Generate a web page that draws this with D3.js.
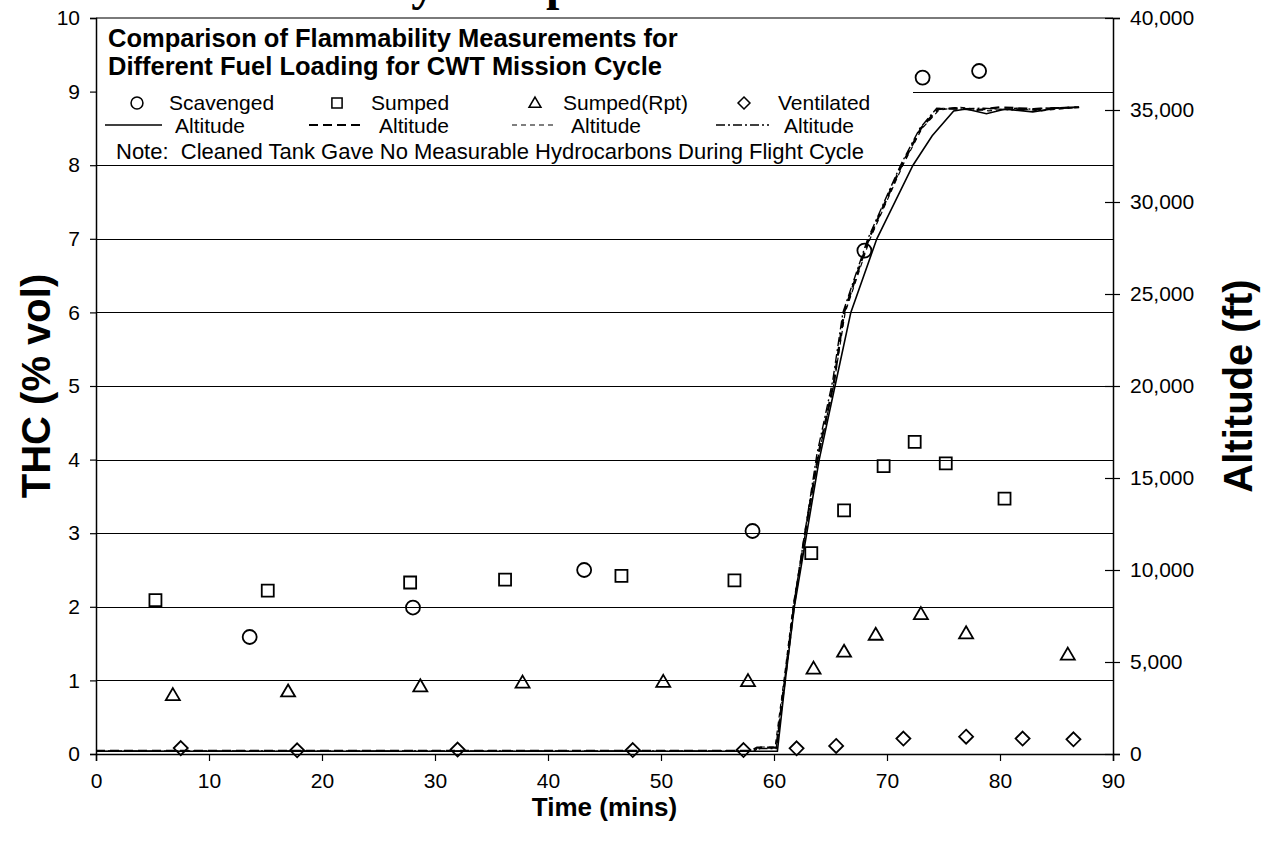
<!DOCTYPE html>
<html>
<head>
<meta charset="utf-8">
<script src="https://cdn.jsdelivr.net/npm/d3@7"></script>
<style>
  body { margin: 0; background: #fff; }
  svg { display: block; font-family: Arial, "Liberation Sans", sans-serif; }
</style>
</head>
<body>
<div id="chart"></div>
<script>
// THC readings (% vol) against time (mins)
const scavenged = [
  { t: 13.6, v: 1.59 }, { t: 28.05, v: 1.99 }, { t: 43.2, v: 2.50 }, { t: 58.1, v: 3.03 },
  { t: 68.0, v: 6.84 }, { t: 73.15, v: 9.19 }, { t: 78.15, v: 9.28 }
];
const sumped = [
  { t: 5.26, v: 2.09 }, { t: 15.2, v: 2.22 }, { t: 27.8, v: 2.33 }, { t: 36.2, v: 2.37 },
  { t: 46.5, v: 2.42 }, { t: 56.5, v: 2.36 }, { t: 63.3, v: 2.73 }, { t: 66.2, v: 3.31 },
  { t: 69.7, v: 3.91 }, { t: 72.45, v: 4.24 }, { t: 75.2, v: 3.95 }, { t: 80.4, v: 3.47 }
];
const sumpedRpt = [
  { t: 6.8, v: 0.80 }, { t: 17.0, v: 0.85 }, { t: 28.7, v: 0.92 }, { t: 37.75, v: 0.97 },
  { t: 50.2, v: 0.98 }, { t: 57.7, v: 0.99 }, { t: 63.5, v: 1.16 }, { t: 66.2, v: 1.39 },
  { t: 69.0, v: 1.62 }, { t: 73.0, v: 1.90 }, { t: 77.0, v: 1.64 }, { t: 86.0, v: 1.35 }
];
const ventilated = [
  { t: 7.5, v: 0.08 }, { t: 17.8, v: 0.05 }, { t: 32.0, v: 0.06 }, { t: 47.5, v: 0.054 },
  { t: 57.3, v: 0.054 }, { t: 62.0, v: 0.077 }, { t: 65.5, v: 0.11 }, { t: 71.45, v: 0.21 },
  { t: 77.0, v: 0.235 }, { t: 82.0, v: 0.21 }, { t: 86.5, v: 0.20 }
];

// altitude traces (ft) for each run, [time, altitude]
const altScavenged = [
  [0, 150], [60.3, 150], [61.0, 4000], [61.8, 8000], [62.9, 12000], [64.0, 16000], [65.4, 20000],
  [66.8, 24000], [69.1, 28000], [72.3, 32000], [74.0, 33600], [75.9, 34950], [77.0, 35050],
  [78.8, 34800], [80.5, 35050], [82.9, 34900], [85.0, 35100], [87.0, 35150]
];
const altSumped = [
  [0, 170], [58.0, 170], [58.5, 350], [60.2, 350], [61.0, 4200], [61.8, 8200], [62.8, 12200],
  [63.9, 16200], [65.3, 20200], [66.2, 24000], [68.4, 28000], [71.3, 32000], [73.0, 34000],
  [74.5, 35050], [76.0, 35100], [78.0, 35000], [80.0, 35150], [83.0, 35050], [87.0, 35150]
];
const altSumpedRpt = [
  [0, 140], [58.3, 140], [58.6, 380], [60.1, 380], [60.9, 4100], [61.7, 8100], [62.8, 12100],
  [63.9, 16100], [65.3, 20100], [66.3, 24000], [68.5, 28000], [71.4, 32000], [73.1, 34000],
  [74.6, 35000], [76.5, 35150], [79.0, 34950], [81.5, 35100], [83.5, 34950], [87.0, 35150]
];
const altVentilated = [
  [0, 160], [58.2, 160], [58.8, 300], [60.2, 300], [61.0, 4300], [61.8, 8300], [62.8, 12300],
  [63.8, 16300], [65.2, 20300], [66.1, 24000], [68.3, 28000], [71.2, 32000], [72.9, 34000],
  [74.4, 35100], [76.0, 35050], [78.5, 35100], [81.0, 35000], [84.0, 35100], [87.0, 35150]
];

const timeTicks = [0, 10, 20, 30, 40, 50, 60, 70, 80, 90];
const thcTicks = [0, 1, 2, 3, 4, 5, 6, 7, 8, 9, 10];
const altTicks = [0, 5000, 10000, 15000, 20000, 25000, 30000, 35000, 40000];

const W = 1265, H = 841;
const M = { top: 18, right: 152, bottom: 87, left: 96 };
const iW = W - M.left - M.right;
const iH = H - M.top - M.bottom;

const svg = d3.select("#chart").append("svg").attr("width", W).attr("height", H);

// page heading, mostly cut off above the chart
svg.append("text").attr("x", 158).attr("y", 0)
  .attr("font-family", "'Liberation Serif', 'Times New Roman', serif")
  .attr("font-weight", "bold").attr("font-size", "48px")
  .text("Flammability Comparison");

const g = svg.append("g").attr("transform", `translate(${M.left},${M.top})`);

const x = d3.scaleLinear().domain([0, 90]).range([0, iW]);
const y = d3.scaleLinear().domain([0, 10]).range([iH, 0]);
const yAlt = d3.scaleLinear().domain([0, 40000]).range([iH, 0]);

// grid
g.append("g").selectAll("line").data(thcTicks.filter(d => d > 0 && d < 10)).join("line")
  .attr("x1", 0).attr("x2", iW)
  .attr("y1", d => Math.round(y(d)) + 0.5).attr("y2", d => Math.round(y(d)) + 0.5)
  .attr("stroke", "#000").attr("stroke-width", 1);

// plot frame top
g.append("line").attr("x1", 0).attr("x2", iW).attr("y1", 0).attr("y2", 0)
  .attr("stroke", "#7a7a7a").attr("stroke-width", 2);

// legend box (white, covers grid)
g.append("rect").attr("x", 1).attr("y", 1).attr("width", 816).attr("height", 143)
  .attr("fill", "#fff");

// altitude traces
const altLine = d3.line().x(d => x(d[0])).y(d => yAlt(d[1]));
const traces = [
  { data: altScavenged, dash: null, w: 1.6 },
  { data: altSumped, dash: "9,5", w: 2.2 },
  { data: altSumpedRpt, dash: "5,4", w: 1.2 },
  { data: altVentilated, dash: "9,3,2,3", w: 1.4 }
];
traces.forEach(s => {
  g.append("path").datum(s.data).attr("d", altLine)
    .attr("fill", "none").attr("stroke", "#000")
    .attr("stroke-width", s.w).attr("stroke-dasharray", s.dash);
});

// marker shapes
const shape = {
  circle: "M7,0A7,7 0 1,1 -7,0A7,7 0 1,1 7,0Z",
  square: "M-6,-6H6V6H-6Z",
  triangle: "M0,-7L7,5H-7Z",
  diamond: "M0,-7L7,0L0,7L-7,0Z"
};
const series = [
  { data: scavenged, shape: "circle" },
  { data: sumped, shape: "square" },
  { data: sumpedRpt, shape: "triangle" },
  { data: ventilated, shape: "diamond" }
];
series.forEach(s => {
  g.append("g").selectAll("path").data(s.data).join("path")
    .attr("transform", d => `translate(${x(d.t)},${y(d.v)})`)
    .attr("d", shape[s.shape])
    .attr("fill", "none").attr("stroke", "#000").attr("stroke-width", 1.8);
});

// axes
const FS = "21px";
const ax = g.append("g").attr("transform", `translate(0,${iH})`)
  .call(d3.axisBottom(x).tickValues(timeTicks).tickSizeOuter(0).tickSize(7).tickPadding(12));
const ay = g.append("g")
  .call(d3.axisLeft(y).tickValues(thcTicks).tickSizeOuter(0).tickSize(6).tickPadding(10));
const ar = g.append("g").attr("transform", `translate(${iW},0)`)
  .call(d3.axisRight(yAlt).tickValues(altTicks).tickFormat(d3.format(",")).tickSizeOuter(0).tickSize(7).tickPadding(10));
ar.selectAll(".tick line").attr("x1", -8);
[ax, ay, ar].forEach(a => {
  a.select(".domain").attr("stroke", "#000").attr("stroke-width", 1.5);
  a.selectAll(".tick line").attr("stroke", "#000").attr("stroke-width", 1.2);
  a.selectAll("text").attr("font-size", FS).attr("font-family", "Arial, 'Liberation Sans', sans-serif").attr("fill", "#000");
});

// axis titles
svg.append("text").attr("x", M.left + iW / 2).attr("y", 816).attr("text-anchor", "middle")
  .attr("font-weight", "bold").attr("font-size", "26px").text("Time (mins)");
svg.append("text").attr("transform", `translate(50,${M.top + iH / 2}) rotate(-90)`)
  .attr("text-anchor", "middle").attr("font-weight", "bold").attr("font-size", "40px")
  .text("THC (% vol)");
svg.append("text").attr("transform", `translate(1252,${M.top + iH / 2}) rotate(-90)`)
  .attr("text-anchor", "middle").attr("font-weight", "bold").attr("font-size", "40px")
  .text("Altitude (ft)");

// legend contents
const lg = svg.append("g");
lg.append("text").attr("x", 108).attr("y", 47).attr("font-weight", "bold").attr("font-size", "25.5px")
  .text("Comparison of Flammability Measurements for");
lg.append("text").attr("x", 108).attr("y", 75).attr("font-weight", "bold").attr("font-size", "25.5px")
  .text("Different Fuel Loading for CWT Mission Cycle");

const markerKeys = [
  { shape: "circle", sx: 137, tx: 169, label: "Scavenged" },
  { shape: "square", sx: 337, tx: 371, label: "Sumped" },
  { shape: "triangle", sx: 535, tx: 563, label: "Sumped(Rpt)" },
  { shape: "diamond", sx: 744, tx: 778, label: "Ventilated" }
];
markerKeys.forEach(k => {
  lg.append("path").attr("transform", `translate(${k.sx},103) scale(0.85)`).attr("d", shape[k.shape])
    .attr("fill", "none").attr("stroke", "#000").attr("stroke-width", 1.8);
  lg.append("text").attr("x", k.tx).attr("y", 110).attr("font-size", FS).text(k.label);
});
const lineKeys = [
  { x1: 105, x2: 162, tx: 175, t: traces[0] },
  { x1: 309, x2: 361, tx: 379, t: traces[1] },
  { x1: 512, x2: 555, tx: 571, t: traces[2] },
  { x1: 716, x2: 769, tx: 784, t: traces[3] }
];
lineKeys.forEach(k => {
  lg.append("line").attr("x1", k.x1).attr("x2", k.x2).attr("y1", 125).attr("y2", 125)
    .attr("stroke", "#000").attr("stroke-width", k.t.w).attr("stroke-dasharray", k.t.dash);
  lg.append("text").attr("x", k.tx).attr("y", 133).attr("font-size", FS).text("Altitude");
});
lg.append("text").attr("x", 116).attr("y", 159).attr("font-size", "22px")
  .text("Note:  Cleaned Tank Gave No Measurable Hydrocarbons During Flight Cycle")
  .style("white-space", "pre");
</script>
</body>
</html>
